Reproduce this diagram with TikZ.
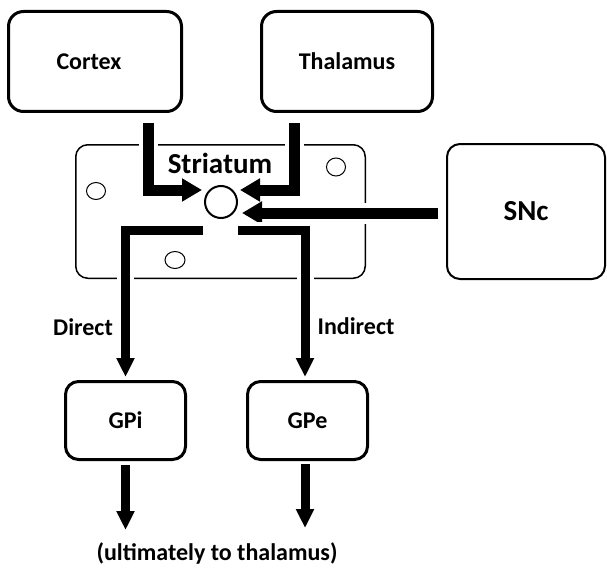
\documentclass[tikz,border=0pt]{standalone}
\usepackage{fontspec}
\setmainfont{Carlito}
\usetikzlibrary{arrows.meta,calc}
\begin{document}
\begin{tikzpicture}[x=1pt,y=-1pt,
  box/.style={draw, line width=3pt, rounded corners=14pt, inner sep=0pt,
    font=\fontsize{24}{28}\selectfont\bfseries},
  lbl/.style={font=\fontsize{24}{28}\selectfont\bfseries, inner sep=0pt},
  biglbl/.style={font=\fontsize{29}{34}\selectfont\bfseries, inner sep=0pt},
  bigarrow/.style={line width=11pt, line join=miter, -{Triangle[length=20pt,width=22pt]}},
  thinarrow/.style={line width=9pt, line join=miter, -{Triangle[length=19pt,width=17pt]}},
  halo/.style={preaction={draw=white, line width=#1, arrows=-}},
  halo/.default=19pt,
  cell/.style={line width=1pt}
]
\useasboundingbox[fill=white] (0,0) rectangle (607,567);

% boxes
\node[box, rounded corners=15pt, minimum width=173pt, minimum height=100pt] (cortex) at (95,61.5) {\hspace*{-12pt}Cortex};
\node[box, rounded corners=15pt, minimum width=171pt, minimum height=100pt] (thalamus) at (347,61.5) {Thalamus};
\node[box, line width=2pt, rounded corners=13pt, minimum width=158pt, minimum height=135pt, font=\fontsize{29}{34}\selectfont\bfseries] (snc) at (526,211.5) {SNc};
\node[draw, line width=1.5pt, rounded corners=12pt, minimum width=289.5pt, minimum height=133.5pt, inner sep=0pt] (striatum) at (220.5,211.5) {};
\node[biglbl] (striatumlbl) at (220,163) {Striatum};
\node[draw, circle, line width=2pt, minimum size=32pt, inner sep=0pt] (circ) at (221,202) {};
\node[box, rounded corners=13pt, minimum width=120pt, minimum height=78pt] (gpi) at (125.5,420.5) {GPi};
\node[box, rounded corners=13pt, minimum width=120pt, minimum height=78pt] (gpe) at (307.5,420.5) {GPe};

% small cells in striatum
\draw[cell] (96,191) ellipse [x radius=9.5pt, y radius=8.5pt];
\draw[cell] (336,167) ellipse [x radius=9.5pt, y radius=9pt];
\draw[cell] (175,260) ellipse [x radius=10pt, y radius=8.5pt];

% labels
\node[lbl] (direct) at (83,327) {Direct};
\node[lbl] (indirect) at (356,326) {Indirect};
\node[lbl] (ult) at (217,553) {(ultimately to thalamus)};

\coordinate (gpiend) at (125.5,530);
\coordinate (gpeend) at (305,528);

% inputs to striatum
\draw[bigarrow, halo=19pt] ([xshift=-35pt,yshift=-10pt]cortex.south east) |- ([xshift=-2pt,yshift=12pt]circ.west);
\draw[bigarrow, halo=19pt] ([xshift=34pt,yshift=-10pt]thalamus.south west) |- ([xshift=2pt,yshift=12pt]circ.east);
\draw[bigarrow, halo=21pt] ([xshift=-8pt,yshift=-1.5pt]snc.west) -- ([xshift=4pt,yshift=-11pt]circ.east);

% outputs
\draw[thinarrow, halo=17pt] ([xshift=-1pt,yshift=-28pt]circ.west) -| ([yshift=3pt]gpi.north);
\draw[thinarrow, halo=17pt] ([yshift=-28pt]circ.east) -| ([xshift=-2.5pt,yshift=3pt]gpe.north);
\draw[thinarrow] ([yshift=-4pt]gpi.south) -- (gpiend);
\draw[thinarrow] ([xshift=-2.5pt,yshift=-3pt]gpe.south) -- (gpeend);
\end{tikzpicture}
\end{document}
